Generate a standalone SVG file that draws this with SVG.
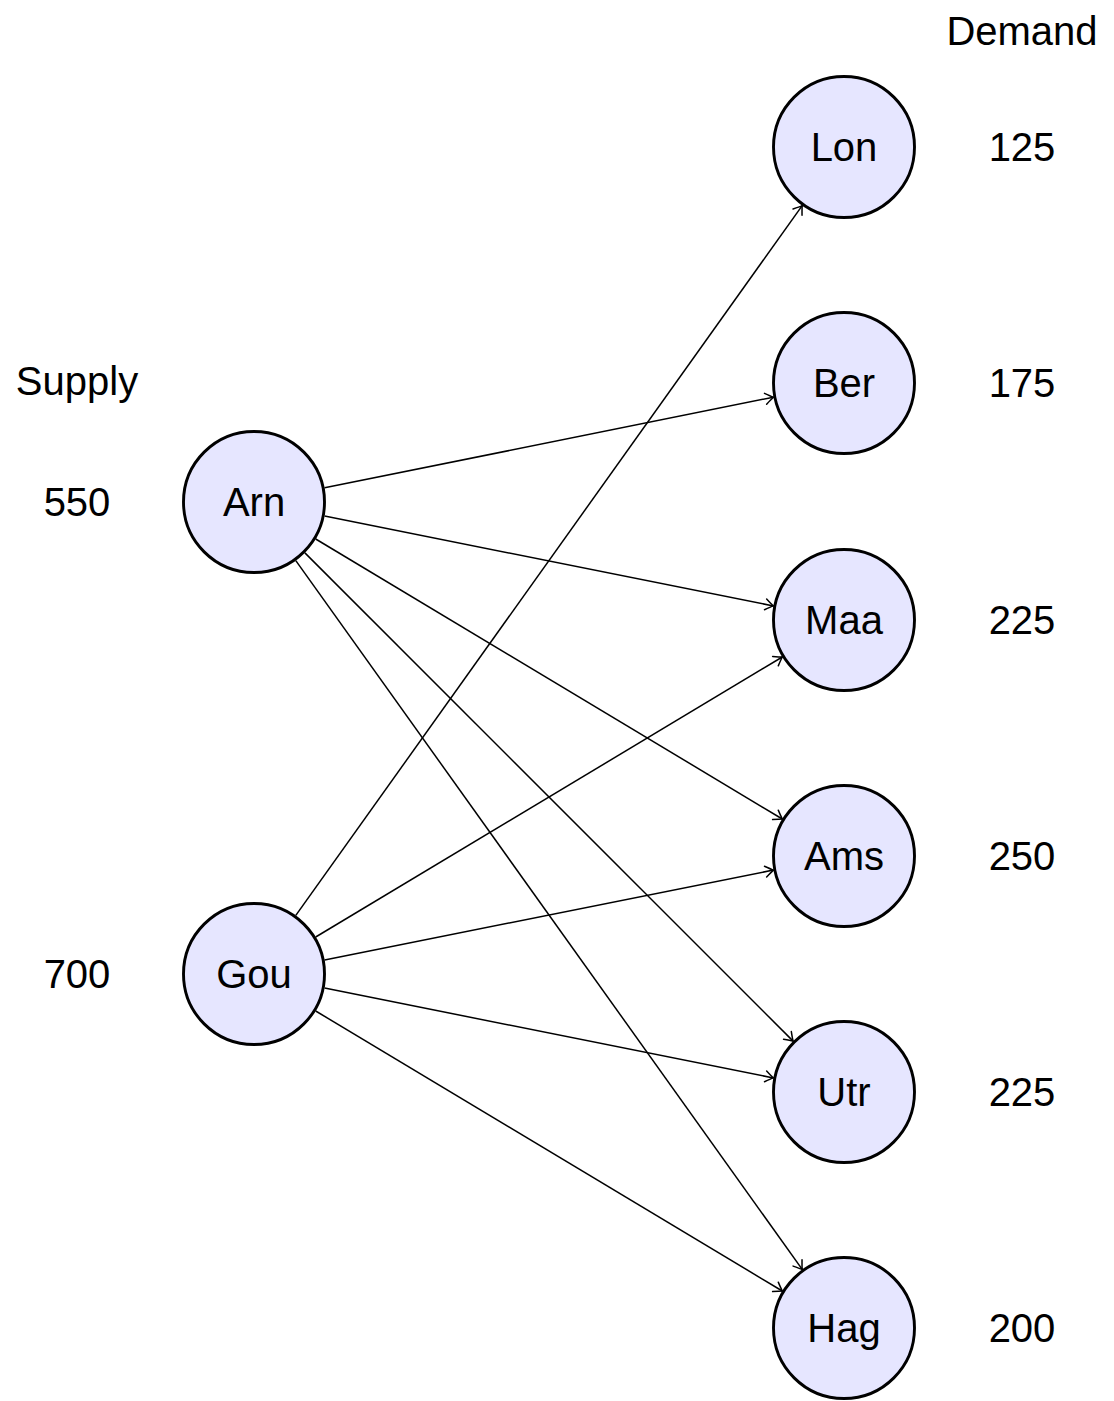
<svg xmlns="http://www.w3.org/2000/svg" width="1114" height="1401" viewBox="0 0 1114 1401">
<style>
.node circle{fill:#e6e6ff;stroke:#000;stroke-width:2.9}
text{font-family:"Liberation Sans",Arial,sans-serif;font-size:40px;fill:#000;text-anchor:middle}
.edges line{stroke:#000;stroke-width:1.5;marker-end:url(#arr)}
</style>
<defs>
<marker id="arr" markerUnits="userSpaceOnUse" viewBox="-10 -7 12 14" markerWidth="12" markerHeight="14" refX="0" refY="0" orient="auto" overflow="visible">
<path d="M -8 -5.5 Q -2.5 -1.5 0 0 Q -2.5 1.5 -8 5.5" fill="none" stroke="#000" stroke-width="1.5" stroke-linecap="round"/>
</marker>
</defs>
<rect width="1114" height="1401" fill="#fff"/>
<g class="edges">
<line x1="324.6" y1="487.8" x2="773.4" y2="397.2"/>
<line x1="324.6" y1="516.1" x2="773.4" y2="605.9"/>
<line x1="315.7" y1="539.0" x2="782.3" y2="819.0"/>
<line x1="304.9" y1="552.9" x2="793.1" y2="1041.1"/>
<line x1="295.8" y1="560.6" x2="802.2" y2="1269.4"/>
<line x1="295.8" y1="915.4" x2="802.2" y2="205.6"/>
<line x1="315.7" y1="937.0" x2="782.3" y2="657.0"/>
<line x1="324.6" y1="959.9" x2="773.4" y2="870.1"/>
<line x1="324.6" y1="988.1" x2="773.4" y2="1077.9"/>
<line x1="315.7" y1="1011.0" x2="782.3" y2="1291.0"/>
</g>
<g id="arn" class="node"><circle cx="254" cy="502" r="70.5"/><text x="254" y="516">Arn</text></g>
<g id="gou" class="node"><circle cx="254" cy="974" r="70.5"/><text x="254" y="988">Gou</text></g>
<g id="lon" class="node"><circle cx="844" cy="147" r="70.5"/><text x="844" y="161">Lon</text></g>
<g id="ber" class="node"><circle cx="844" cy="383" r="70.5"/><text x="844" y="397">Ber</text></g>
<g id="maa" class="node"><circle cx="844" cy="620" r="70.5"/><text x="844" y="634">Maa</text></g>
<g id="ams" class="node"><circle cx="844" cy="856" r="70.5"/><text x="844" y="870">Ams</text></g>
<g id="utr" class="node"><circle cx="844" cy="1092" r="70.5"/><text x="844" y="1106">Utr</text></g>
<g id="hag" class="node"><circle cx="844" cy="1328" r="70.5"/><text x="844" y="1342">Hag</text></g>
<g id="labels">
<text x="77" y="395">Supply</text>
<text x="77" y="516">550</text>
<text x="77" y="988">700</text>
<text x="1022" y="45">Demand</text>
<text x="1022" y="161">125</text>
<text x="1022" y="397">175</text>
<text x="1022" y="634">225</text>
<text x="1022" y="870">250</text>
<text x="1022" y="1106">225</text>
<text x="1022" y="1342">200</text>
</g>
</svg>
